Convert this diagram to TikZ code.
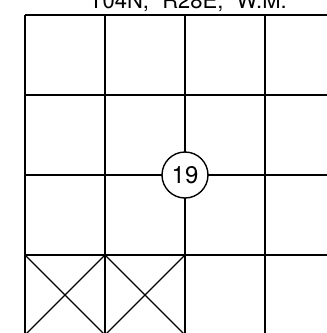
\documentclass[tikz,border=0pt]{standalone}
\usepackage{fontspec}
\setmainfont{TeX Gyre Heros}
\usetikzlibrary{positioning}
\tikzset{
  gridline/.style={line width=1.6pt},
  crossline/.style={line width=1.4pt},
  secnum/.style={circle,draw,line width=1.4pt,fill=white,minimum size=46pt,inner sep=0pt,font=\fontsize{24}{28}\selectfont},
  twptitle/.style={anchor=base,inner sep=0pt,font=\fontsize{22}{26}\selectfont}
}
\begin{document}
\begin{tikzpicture}[x=1pt,y=-1pt]
\useasboundingbox (0,0) rectangle (327,333);
\clip (0,0) rectangle (327,333);
\node[twptitle] (title) at (188,8) {T04N,\hspace{0.6em}R28E,\hspace{0.6em}W.M.};
\foreach \x in {25,105,185,265}
  \draw[gridline] (\x,15) -- (\x,340);
\foreach \y in {15,95,175,255}
  \draw[gridline] (25,\y) -- (340,\y);
\draw[crossline] (25,255) -- (105,335) (105,255) -- (25,335);
\draw[crossline] (105,255) -- (185,335) (185,255) -- (105,335);
\node[secnum] (sec19) at (185,175) {19};
\end{tikzpicture}
\end{document}
